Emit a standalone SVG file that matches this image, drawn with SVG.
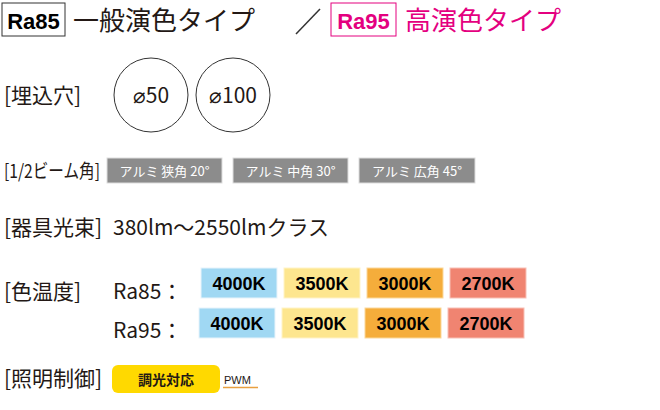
<svg xmlns="http://www.w3.org/2000/svg" width="660" height="410" viewBox="0 0 660 410">
<style>
.j{font-family:"Noto Sans CJK JP","Noto Sans",sans-serif;fill:#231815}
.lab{font-size:21px}
.b{font-family:"Liberation Sans",Arial,sans-serif;font-weight:bold;font-size:18px;fill:#000;text-anchor:middle}
.g{fill:#8c8c8c;stroke:#ddd;stroke-width:1}
.gt{font-family:"Noto Sans CJK JP",sans-serif;font-size:13px;fill:#fff;text-anchor:middle}
</style>
<g id="header">
<rect x="2" y="3" width="63" height="33" fill="#fff" stroke="#333" stroke-width="1"/>
<text x="33.5" y="29" class="b" font-size="22" style="font-size:22px">Ra85</text>
<text x="73" y="30" class="j" font-size="26">一般演色タイプ</text>
<line x1="296" y1="34" x2="320" y2="9" stroke="#333" stroke-width="1.5"/>
<rect x="331" y="3" width="65" height="33" fill="#fff" stroke="#e4007f" stroke-width="1"/>
<text x="363.5" y="29" class="b" style="font-size:22px;fill:#e4007f">Ra95</text>
<text x="405" y="30" class="j" font-size="26" style="fill:#e4007f">高演色タイプ</text>
</g>
<g id="hole">
<text x="4" y="103" class="j lab">[埋込穴]</text>
<circle cx="151" cy="95" r="37" fill="#fff" stroke="#333"/>
<text x="151" y="103" class="j" font-size="21" text-anchor="middle">⌀50</text>
<circle cx="233" cy="95" r="37" fill="#fff" stroke="#333"/>
<text x="233" y="103" class="j" font-size="21" text-anchor="middle">⌀100</text>
</g>
<g id="beam">
<text x="4" y="178" class="j" font-size="19" textLength="96" lengthAdjust="spacingAndGlyphs">[1/2ビーム角]</text>
<rect x="107" y="158" width="115" height="25" class="g"/>
<text x="164.5" y="176" class="gt">アルミ 狭角 20°</text>
<rect x="233" y="158" width="115" height="25" class="g"/>
<text x="290.5" y="176" class="gt">アルミ 中角 30°</text>
<rect x="359" y="158" width="116" height="25" class="g"/>
<text x="417" y="176" class="gt">アルミ 広角 45°</text>
</g>
<g id="flux">
<text x="4" y="235" class="j lab">[器具光束]</text>
<text x="113" y="235" class="j" font-size="21">380lm～2550lmクラス</text>
</g>
<g id="color">
<text x="4" y="299" class="j lab">[色温度]</text>
<text x="113" y="299" class="j" font-size="21">Ra85：</text>
<text x="113" y="338" class="j" font-size="21">Ra95：</text>
<rect x="201" y="268" width="76" height="30" fill="#a0d8f3" stroke="#e8f4fb"/>
<text x="239" y="290" class="b">4000K</text>
<rect x="284" y="268" width="76" height="30" fill="#fde68f" stroke="#fff3c8"/>
<text x="322" y="290" class="b">3500K</text>
<rect x="367" y="268" width="76" height="30" fill="#f5ad3b" stroke="#fbd89a"/>
<text x="405" y="290" class="b">3000K</text>
<rect x="450" y="268" width="76" height="30" fill="#f08471" stroke="#f8c0b6"/>
<text x="488" y="290" class="b">2700K</text>
<rect x="199" y="308" width="76" height="30" fill="#a0d8f3" stroke="#e8f4fb"/>
<text x="237" y="330" class="b">4000K</text>
<rect x="282" y="308" width="76" height="30" fill="#fde68f" stroke="#fff3c8"/>
<text x="320" y="330" class="b">3500K</text>
<rect x="365" y="308" width="76" height="30" fill="#f5ad3b" stroke="#fbd89a"/>
<text x="403" y="330" class="b">3000K</text>
<rect x="448" y="308" width="76" height="30" fill="#f08471" stroke="#f8c0b6"/>
<text x="486" y="330" class="b">2700K</text>
</g>
<g id="control">
<text x="4" y="386" class="j lab">[照明制御]</text>
<rect x="112" y="365" width="108" height="28" rx="6" fill="#ffd900"/>
<text x="166" y="385" class="j" font-size="14" font-weight="bold" text-anchor="middle">調光対応</text>
<text x="224" y="384" font-family="Liberation Sans,Arial,sans-serif" font-size="11" fill="#231815">PWM</text>
<line x1="223" y1="387.5" x2="258" y2="387.5" stroke="#e8a040" stroke-width="1.5"/>
</g>
</svg>
